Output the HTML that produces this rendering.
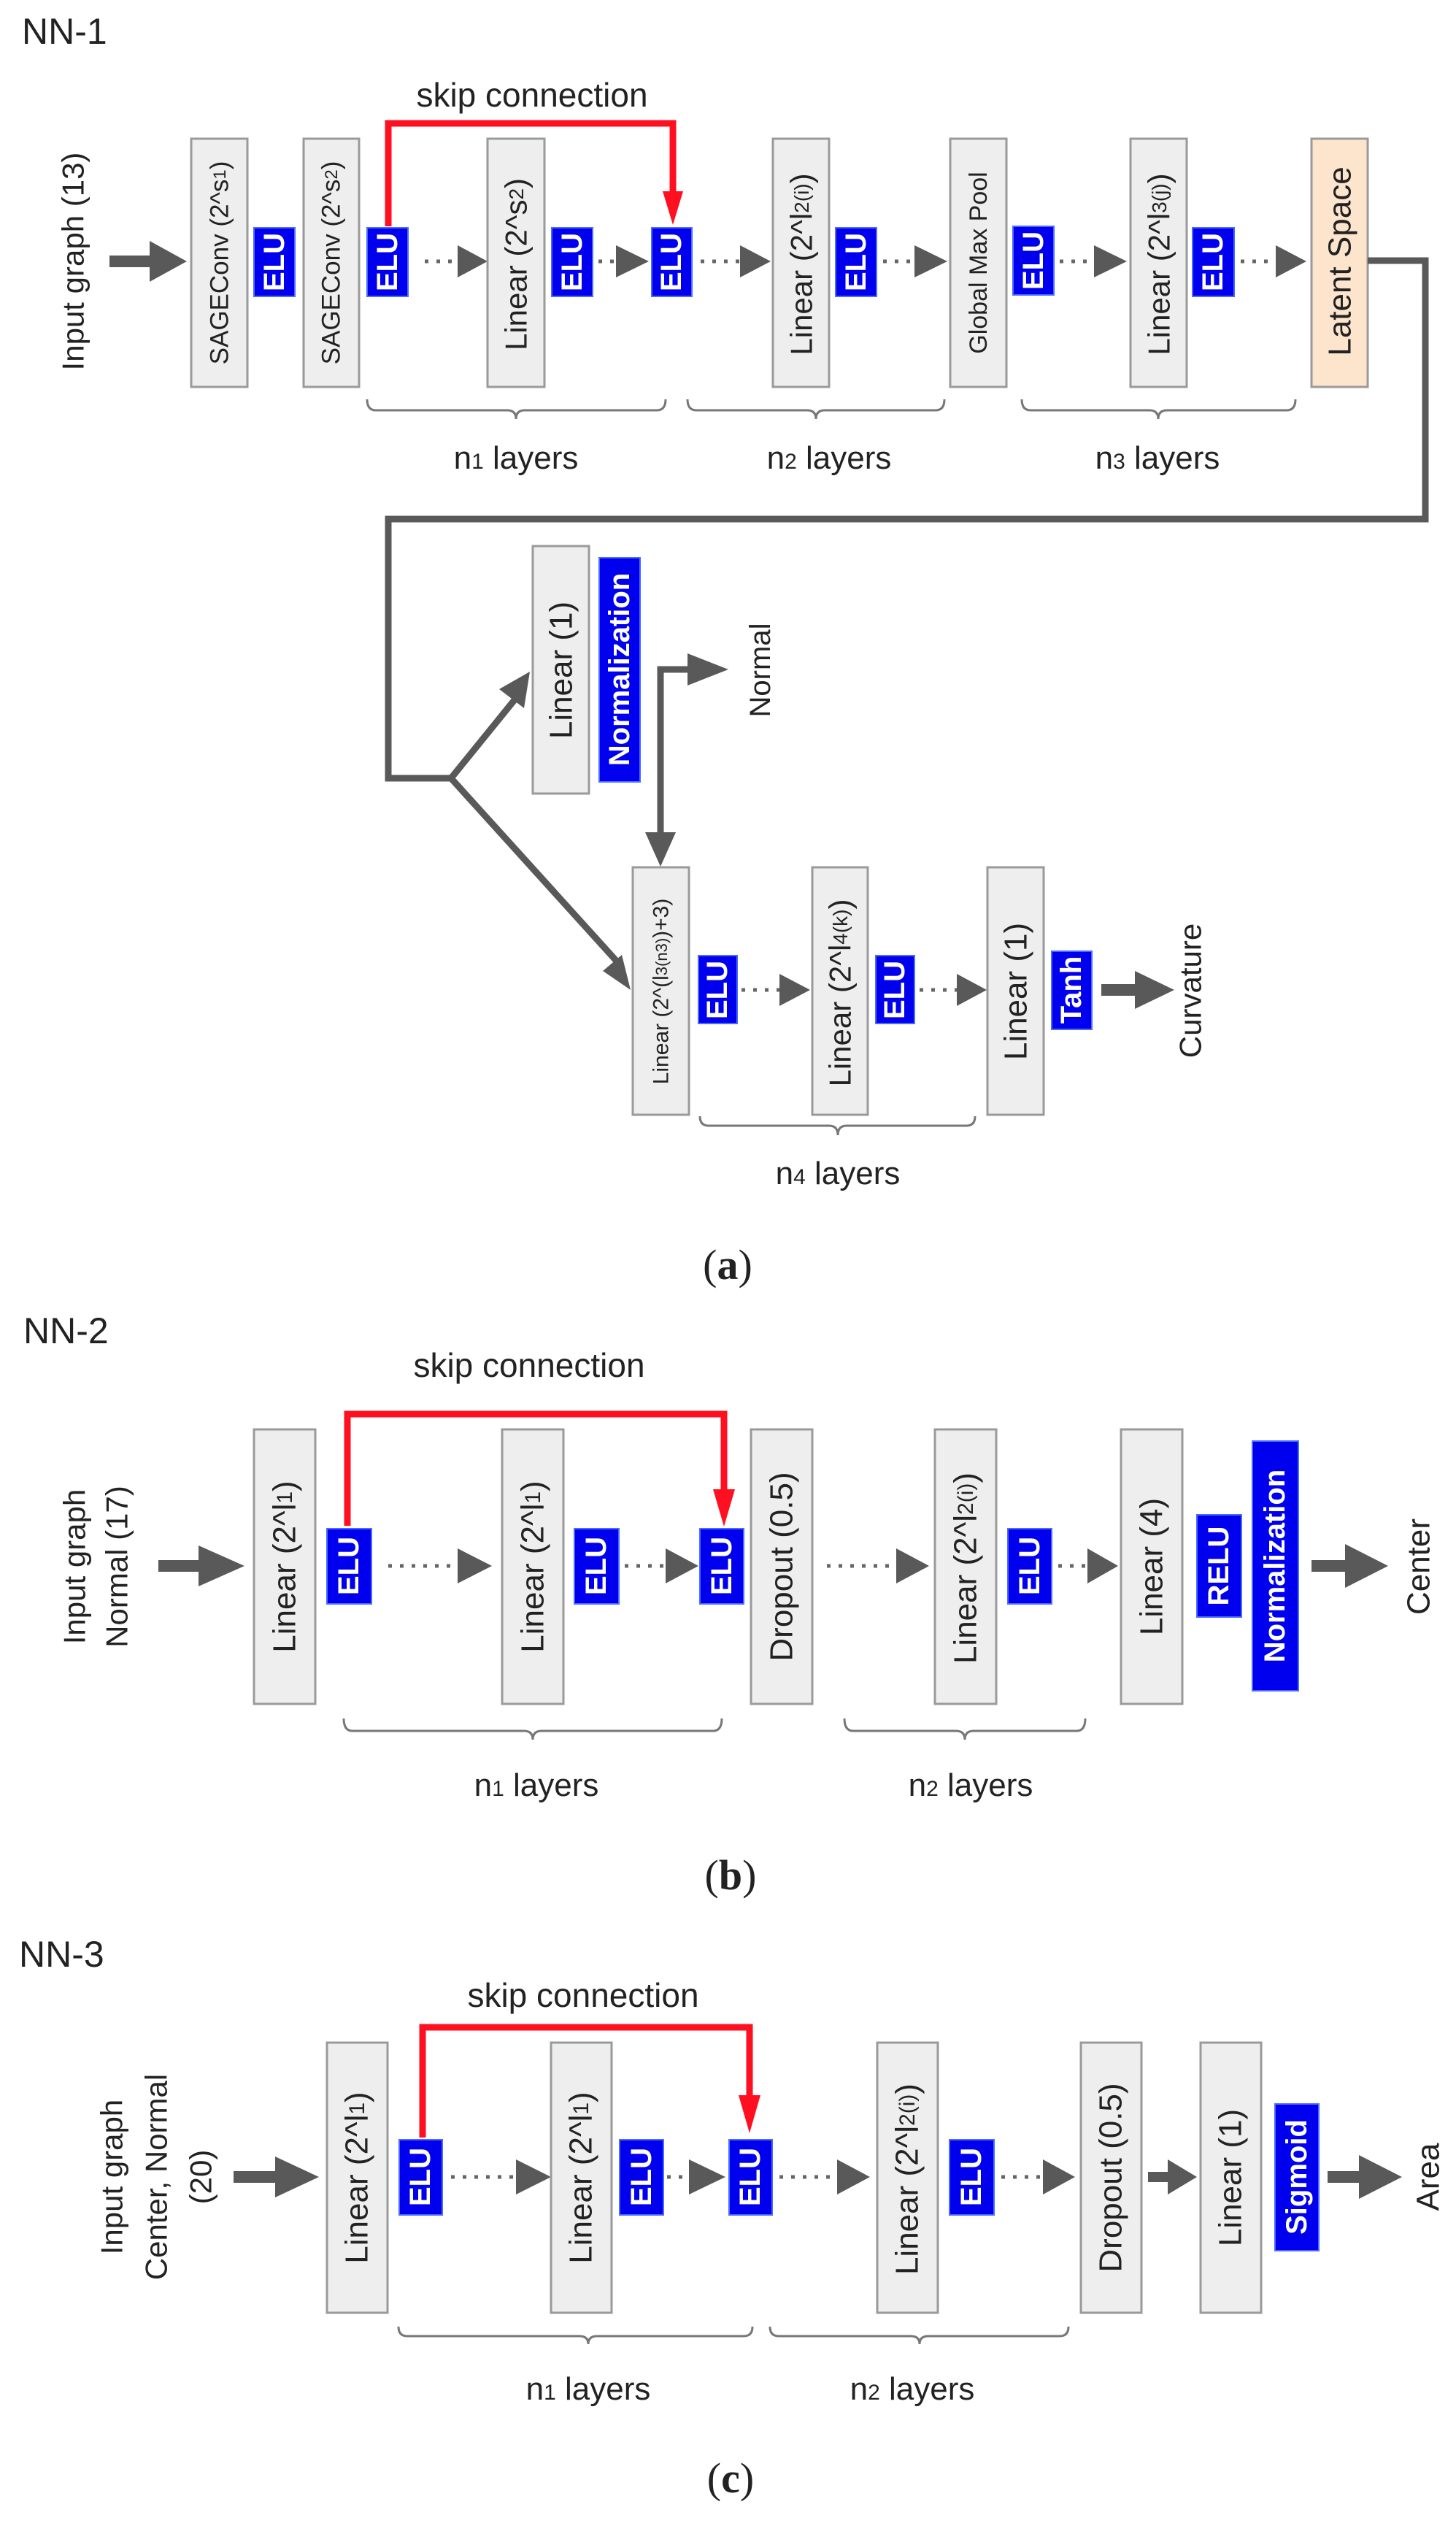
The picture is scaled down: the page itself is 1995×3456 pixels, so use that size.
<!DOCTYPE html>
<html><head><meta charset="utf-8"><style>
html,body{margin:0;padding:0;background:#fff}
svg{display:block}
text{font-family:"Liberation Sans",sans-serif;fill:#222}
.bx{fill:#eeeeee;stroke:#9a9a9a;stroke-width:3}
.lt{fill:#fde4cc;stroke:#9a9a9a;stroke-width:3}
.elu{fill:#0000ee;stroke:#4a6aff;stroke-width:2}
.et{fill:#fff;font-weight:bold;font-size:40px}
.ar{fill:#595959}
.ln{stroke:#595959;stroke-width:9;fill:none}
.dt{stroke:#666;stroke-width:5;stroke-dasharray:5 11;fill:none}
.br{stroke:#777;stroke-width:3;fill:none}
.red{stroke:#ff1020;stroke-width:9;fill:none}
.lab{font-size:44px}
.cap{font-family:"Liberation Serif",serif;font-size:58px}
</style></head><body>
<svg width="1995" height="3456" viewBox="0 0 1995 3456" xmlns="http://www.w3.org/2000/svg">

<!-- ================= (a) ================= -->
<text x="30" y="60" font-size="50">NN-1</text>
<text x="729" y="146" font-size="46" text-anchor="middle">skip connection</text>
<text transform="translate(100,358) rotate(-90)" text-anchor="middle" dominant-baseline="central" font-size="42">Input graph (13)</text>
<!-- input arrow -->
<rect x="150" y="350" width="60" height="16" class="ar"/>
<polygon points="205,330 256,358 205,386" class="ar"/>

<!-- boxes -->
<rect x="262" y="190" width="77" height="340" class="bx"/>
<text transform="translate(301,360) rotate(-90)" text-anchor="middle" dominant-baseline="central" font-size="35">SAGEConv (2^s<tspan font-size="24">1</tspan>)</text>
<rect x="348" y="312" width="56" height="94" class="elu"/>
<text transform="translate(376,359) rotate(-90)" text-anchor="middle" dominant-baseline="central" class="et">ELU</text>
<rect x="416" y="190" width="76" height="340" class="bx"/>
<text transform="translate(454,360) rotate(-90)" text-anchor="middle" dominant-baseline="central" font-size="35">SAGEConv (2^s<tspan font-size="24">2</tspan>)</text>
<rect x="503" y="312" width="56" height="94" class="elu"/>
<text transform="translate(531,359) rotate(-90)" text-anchor="middle" dominant-baseline="central" class="et">ELU</text>
<line x1="582" y1="358" x2="627" y2="358" class="dt"/>
<polygon points="627,336 668,358 627,380" class="ar"/>
<rect x="668" y="190" width="78" height="340" class="bx"/>
<text transform="translate(707,362) rotate(-90)" text-anchor="middle" dominant-baseline="central" font-size="42">Linear (2^s<tspan font-size="28">2</tspan>)</text>
<rect x="756" y="312" width="56" height="94" class="elu"/>
<text transform="translate(784,359) rotate(-90)" text-anchor="middle" dominant-baseline="central" class="et">ELU</text>
<line x1="820" y1="358" x2="844" y2="358" class="dt"/>
<polygon points="844,336 889,358 844,380" class="ar"/>
<rect x="893" y="312" width="55" height="94" class="elu"/>
<text transform="translate(920,359) rotate(-90)" text-anchor="middle" dominant-baseline="central" class="et">ELU</text>
<line x1="960" y1="358" x2="1014" y2="358" class="dt"/>
<polygon points="1014,336 1056,358 1014,380" class="ar"/>
<rect x="1059" y="190" width="77" height="340" class="bx"/>
<text transform="translate(1098,362) rotate(-90)" text-anchor="middle" dominant-baseline="central" font-size="42">Linear (2^l<tspan font-size="28">2(i)</tspan>)</text>
<rect x="1145" y="312" width="56" height="94" class="elu"/>
<text transform="translate(1173,359) rotate(-90)" text-anchor="middle" dominant-baseline="central" class="et">ELU</text>
<line x1="1210" y1="358" x2="1253" y2="358" class="dt"/>
<polygon points="1253,336 1298,358 1253,380" class="ar"/>
<rect x="1302" y="190" width="77" height="340" class="bx"/>
<text transform="translate(1341,360) rotate(-90)" text-anchor="middle" dominant-baseline="central" font-size="34">Global Max Pool</text>
<rect x="1388" y="310" width="56" height="94" class="elu"/>
<text transform="translate(1416,357) rotate(-90)" text-anchor="middle" dominant-baseline="central" class="et">ELU</text>
<line x1="1452" y1="358" x2="1499" y2="358" class="dt"/>
<polygon points="1499,336 1544,358 1499,380" class="ar"/>
<rect x="1549" y="190" width="77" height="340" class="bx"/>
<text transform="translate(1588,362) rotate(-90)" text-anchor="middle" dominant-baseline="central" font-size="42">Linear (2^l<tspan font-size="28">3(j)</tspan>)</text>
<rect x="1634" y="312" width="57" height="94" class="elu"/>
<text transform="translate(1662,359) rotate(-90)" text-anchor="middle" dominant-baseline="central" class="et">ELU</text>
<line x1="1700" y1="358" x2="1748" y2="358" class="dt"/>
<polygon points="1748,336 1790,358 1748,380" class="ar"/>
<rect x="1797" y="190" width="77" height="340" class="lt"/>
<text transform="translate(1836,358) rotate(-90)" text-anchor="middle" dominant-baseline="central" font-size="44">Latent Space</text>

<!-- skip connection a -->
<polyline points="532,310 532,169 922,169 922,270" class="red"/>
<polygon points="908,262 936,262 922,308" fill="#ff1020"/>

<!-- brackets a -->
<path d="M503,547 Q503,562 515,562 L695,562 Q707,562 707,574 Q707,562 719,562 L900,562 Q912,562 912,547" class="br"/>
<path d="M942,547 Q942,562 954,562 L1106,562 Q1118,562 1118,574 Q1118,562 1130,562 L1282,562 Q1294,562 1294,547" class="br"/>
<path d="M1400,547 Q1400,562 1412,562 L1575,562 Q1587,562 1587,574 Q1587,562 1599,562 L1763,562 Q1775,562 1775,547" class="br"/>
<text x="707" y="642" class="lab" text-anchor="middle">n<tspan font-size="30">1</tspan> layers</text>
<text x="1136" y="642" class="lab" text-anchor="middle">n<tspan font-size="30">2</tspan> layers</text>
<text x="1586" y="642" class="lab" text-anchor="middle">n<tspan font-size="30">3</tspan> layers</text>

<!-- loop line -->
<polyline points="1874,357 1953,357 1953,711 532,711 532,1066 618,1066" class="ln"/>
<line x1="618" y1="1066" x2="708" y2="955" class="ln"/>
<polygon points="684,944 726,920 718,970" class="ar"/>
<line x1="618" y1="1066" x2="848" y2="1320" class="ln"/>
<polygon points="826,1330 864,1356 852,1308" class="ar"/>

<!-- upper branch -->
<rect x="730" y="748" width="77" height="339" class="bx"/>
<text transform="translate(769,918) rotate(-90)" text-anchor="middle" dominant-baseline="central" font-size="44">Linear (1)</text>
<rect x="821" y="764" width="56" height="307" class="elu"/>
<text transform="translate(849,917) rotate(-90)" text-anchor="middle" dominant-baseline="central" class="et">Normalization</text>
<polyline points="905,1150 905,917 950,917" class="ln"/>
<polygon points="942,895 998,917 942,939" class="ar"/>
<polygon points="884,1140 926,1140 905,1187" class="ar"/>
<text transform="translate(1042,918) rotate(-90)" text-anchor="middle" dominant-baseline="central" font-size="40">Normal</text>

<!-- lower branch -->
<rect x="867" y="1188" width="77" height="339" class="bx"/>
<text transform="translate(906,1358) rotate(-90)" text-anchor="middle" dominant-baseline="central" font-size="30">Linear (2^(l<tspan font-size="22">3(n3)</tspan>)+3)</text>
<rect x="957" y="1309" width="53" height="93" class="elu"/>
<text transform="translate(983,1356) rotate(-90)" text-anchor="middle" dominant-baseline="central" class="et">ELU</text>
<line x1="1016" y1="1356" x2="1068" y2="1356" class="dt"/>
<polygon points="1068,1334 1110,1356 1068,1378" class="ar"/>
<rect x="1113" y="1188" width="76" height="339" class="bx"/>
<text transform="translate(1151,1360) rotate(-90)" text-anchor="middle" dominant-baseline="central" font-size="42">Linear (2^l<tspan font-size="28">4(k)</tspan>)</text>
<rect x="1200" y="1309" width="53" height="93" class="elu"/>
<text transform="translate(1226,1356) rotate(-90)" text-anchor="middle" dominant-baseline="central" class="et">ELU</text>
<line x1="1260" y1="1356" x2="1311" y2="1356" class="dt"/>
<polygon points="1311,1334 1352,1356 1311,1378" class="ar"/>
<rect x="1353" y="1188" width="77" height="339" class="bx"/>
<text transform="translate(1392,1358) rotate(-90)" text-anchor="middle" dominant-baseline="central" font-size="44">Linear (1)</text>
<rect x="1441" y="1303" width="55" height="107" class="elu"/>
<text transform="translate(1468,1356) rotate(-90)" text-anchor="middle" dominant-baseline="central" class="et">Tanh</text>
<rect x="1509" y="1348" width="50" height="16" class="ar"/>
<polygon points="1555,1330 1609,1356 1555,1382" class="ar"/>
<text transform="translate(1631,1357) rotate(-90)" text-anchor="middle" dominant-baseline="central" font-size="42">Curvature</text>
<path d="M959,1529 Q959,1542 971,1542 L1136,1542 Q1148,1542 1148,1555 Q1148,1542 1160,1542 L1324,1542 Q1336,1542 1336,1529" class="br"/>
<text x="1148" y="1622" class="lab" text-anchor="middle">n<tspan font-size="30">4</tspan> layers</text>
<text x="997" y="1752" class="cap" text-anchor="middle">(<tspan font-weight="bold">a</tspan>)</text>

<!-- ================= (b) ================= -->
<text x="32" y="1840" font-size="50">NN-2</text>
<text x="725" y="1886" font-size="46" text-anchor="middle">skip connection</text>
<text transform="translate(102,2146) rotate(-90)" text-anchor="middle" dominant-baseline="central" font-size="42">Input graph</text>
<text transform="translate(160,2146) rotate(-90)" text-anchor="middle" dominant-baseline="central" font-size="42">Normal (17)</text>
<rect x="217" y="2137" width="60" height="16" class="ar"/>
<polygon points="272,2117 335,2145 272,2173" class="ar"/>

<rect x="348" y="1958" width="84" height="376" class="bx"/>
<text transform="translate(390,2146) rotate(-90)" text-anchor="middle" dominant-baseline="central" font-size="44">Linear (2^l<tspan font-size="30">1</tspan>)</text>
<rect x="448" y="2094" width="61" height="103" class="elu"/>
<text transform="translate(478,2145) rotate(-90)" text-anchor="middle" dominant-baseline="central" class="et">ELU</text>
<line x1="532" y1="2145" x2="627" y2="2145" class="dt"/>
<polygon points="627,2121 674,2145 627,2169" class="ar"/>
<rect x="688" y="1958" width="84" height="376" class="bx"/>
<text transform="translate(730,2146) rotate(-90)" text-anchor="middle" dominant-baseline="central" font-size="44">Linear (2^l<tspan font-size="30">1</tspan>)</text>
<rect x="787" y="2094" width="61" height="103" class="elu"/>
<text transform="translate(817,2145) rotate(-90)" text-anchor="middle" dominant-baseline="central" class="et">ELU</text>
<line x1="856" y1="2145" x2="912" y2="2145" class="dt"/>
<polygon points="912,2121 957,2145 912,2169" class="ar"/>
<rect x="959" y="2094" width="60" height="103" class="elu"/>
<text transform="translate(989,2145) rotate(-90)" text-anchor="middle" dominant-baseline="central" class="et">ELU</text>
<rect x="1029" y="1958" width="84" height="376" class="bx"/>
<text transform="translate(1071,2146) rotate(-90)" text-anchor="middle" dominant-baseline="central" font-size="44">Dropout (0.5)</text>
<line x1="1133" y1="2145" x2="1228" y2="2145" class="dt"/>
<polygon points="1228,2121 1273,2145 1228,2169" class="ar"/>
<rect x="1281" y="1958" width="84" height="376" class="bx"/>
<text transform="translate(1323,2148) rotate(-90)" text-anchor="middle" dominant-baseline="central" font-size="44">Linear (2^l<tspan font-size="30">2(i)</tspan>)</text>
<rect x="1381" y="2094" width="60" height="103" class="elu"/>
<text transform="translate(1411,2145) rotate(-90)" text-anchor="middle" dominant-baseline="central" class="et">ELU</text>
<line x1="1450" y1="2145" x2="1490" y2="2145" class="dt"/>
<polygon points="1490,2121 1532,2145 1490,2169" class="ar"/>
<rect x="1536" y="1958" width="84" height="376" class="bx"/>
<text transform="translate(1578,2146) rotate(-90)" text-anchor="middle" dominant-baseline="central" font-size="44">Linear (4)</text>
<rect x="1640" y="2075" width="61" height="140" class="elu"/>
<text transform="translate(1670,2145) rotate(-90)" text-anchor="middle" dominant-baseline="central" class="et" font-size="44">RELU</text>
<rect x="1716" y="1974" width="63" height="342" class="elu"/>
<text transform="translate(1747,2145) rotate(-90)" text-anchor="middle" dominant-baseline="central" class="et" font-size="44">Normalization</text>
<rect x="1797" y="2137" width="52" height="16" class="ar"/>
<polygon points="1843,2115 1902,2145 1843,2175" class="ar"/>
<text transform="translate(1944,2146) rotate(-90)" text-anchor="middle" dominant-baseline="central" font-size="44">Center</text>

<polyline points="476,2090 476,1937 992,1937 992,2050" class="red"/>
<polygon points="977,2040 1007,2040 992,2091" fill="#ff1020"/>
<path d="M471,2354 Q471,2371 483,2371 L718,2371 Q730,2371 730,2383 Q730,2371 742,2371 L977,2371 Q989,2371 989,2354" class="br"/>
<path d="M1157,2354 Q1157,2371 1169,2371 L1310,2371 Q1322,2371 1322,2383 Q1322,2371 1334,2371 L1475,2371 Q1487,2371 1487,2354" class="br"/>
<text x="735" y="2460" class="lab" text-anchor="middle">n<tspan font-size="30">1</tspan> layers</text>
<text x="1330" y="2460" class="lab" text-anchor="middle">n<tspan font-size="30">2</tspan> layers</text>
<text x="1001" y="2588" class="cap" text-anchor="middle">(<tspan font-weight="bold">b</tspan>)</text>

<!-- ================= (c) ================= -->
<text x="26" y="2694" font-size="50">NN-3</text>
<text x="799" y="2749" font-size="46" text-anchor="middle">skip connection</text>
<text transform="translate(153,2982) rotate(-90)" text-anchor="middle" dominant-baseline="central" font-size="42">Input graph</text>
<text transform="translate(214,2982) rotate(-90)" text-anchor="middle" dominant-baseline="central" font-size="42">Center, Normal</text>
<text transform="translate(275,2982) rotate(-90)" text-anchor="middle" dominant-baseline="central" font-size="42">(20)</text>
<rect x="320" y="2974" width="62" height="16" class="ar"/>
<polygon points="377,2954 437,2982 377,3010" class="ar"/>

<rect x="448" y="2798" width="83" height="370" class="bx"/>
<text transform="translate(489,2983) rotate(-90)" text-anchor="middle" dominant-baseline="central" font-size="44">Linear (2^l<tspan font-size="30">1</tspan>)</text>
<rect x="547" y="2931" width="59" height="103" class="elu"/>
<text transform="translate(576,2982) rotate(-90)" text-anchor="middle" dominant-baseline="central" class="et">ELU</text>
<line x1="618" y1="2982" x2="707" y2="2982" class="dt"/>
<polygon points="707,2958 755,2982 707,3006" class="ar"/>
<rect x="755" y="2798" width="83" height="370" class="bx"/>
<text transform="translate(796,2983) rotate(-90)" text-anchor="middle" dominant-baseline="central" font-size="44">Linear (2^l<tspan font-size="30">1</tspan>)</text>
<rect x="849" y="2931" width="60" height="103" class="elu"/>
<text transform="translate(879,2982) rotate(-90)" text-anchor="middle" dominant-baseline="central" class="et">ELU</text>
<line x1="914" y1="2982" x2="944" y2="2982" class="dt"/>
<polygon points="944,2958 994,2982 944,3006" class="ar"/>
<rect x="999" y="2931" width="59" height="103" class="elu"/>
<text transform="translate(1028,2982) rotate(-90)" text-anchor="middle" dominant-baseline="central" class="et">ELU</text>
<line x1="1068" y1="2982" x2="1147" y2="2982" class="dt"/>
<polygon points="1147,2958 1192,2982 1147,3006" class="ar"/>
<rect x="1202" y="2798" width="83" height="370" class="bx"/>
<text transform="translate(1243,2985) rotate(-90)" text-anchor="middle" dominant-baseline="central" font-size="44">Linear (2^l<tspan font-size="30">2(i)</tspan>)</text>
<rect x="1301" y="2931" width="61" height="103" class="elu"/>
<text transform="translate(1331,2982) rotate(-90)" text-anchor="middle" dominant-baseline="central" class="et">ELU</text>
<line x1="1372" y1="2982" x2="1429" y2="2982" class="dt"/>
<polygon points="1429,2958 1473,2982 1429,3006" class="ar"/>
<rect x="1481" y="2798" width="83" height="370" class="bx"/>
<text transform="translate(1522,2983) rotate(-90)" text-anchor="middle" dominant-baseline="central" font-size="44">Dropout (0.5)</text>
<rect x="1573" y="2975" width="30" height="14" class="ar"/>
<polygon points="1600,2958 1640,2982 1600,3006" class="ar"/>
<rect x="1645" y="2798" width="83" height="370" class="bx"/>
<text transform="translate(1686,2983) rotate(-90)" text-anchor="middle" dominant-baseline="central" font-size="44">Linear (1)</text>
<rect x="1747" y="2882" width="60" height="201" class="elu"/>
<text transform="translate(1777,2982) rotate(-90)" text-anchor="middle" dominant-baseline="central" class="et" font-size="44">Sigmoid</text>
<rect x="1819" y="2974" width="50" height="16" class="ar"/>
<polygon points="1862,2952 1921,2982 1862,3012" class="ar"/>
<text transform="translate(1957,2982) rotate(-90)" text-anchor="middle" dominant-baseline="central" font-size="44">Area</text>

<polyline points="579,2928 579,2777 1027,2777 1027,2880" class="red"/>
<polygon points="1012,2870 1042,2870 1027,2922" fill="#ff1020"/>
<path d="M546,3187 Q546,3200 558,3200 L794,3200 Q806,3200 806,3211 Q806,3200 818,3200 L1019,3200 Q1031,3200 1031,3187" class="br"/>
<path d="M1055,3187 Q1055,3200 1067,3200 L1248,3200 Q1260,3200 1260,3211 Q1260,3200 1272,3200 L1452,3200 Q1464,3200 1464,3187" class="br"/>
<text x="806" y="3287" class="lab" text-anchor="middle">n<tspan font-size="30">1</tspan> layers</text>
<text x="1250" y="3287" class="lab" text-anchor="middle">n<tspan font-size="30">2</tspan> layers</text>
<text x="1001" y="3414" class="cap" text-anchor="middle">(<tspan font-weight="bold">c</tspan>)</text>
</svg>
</body></html>
